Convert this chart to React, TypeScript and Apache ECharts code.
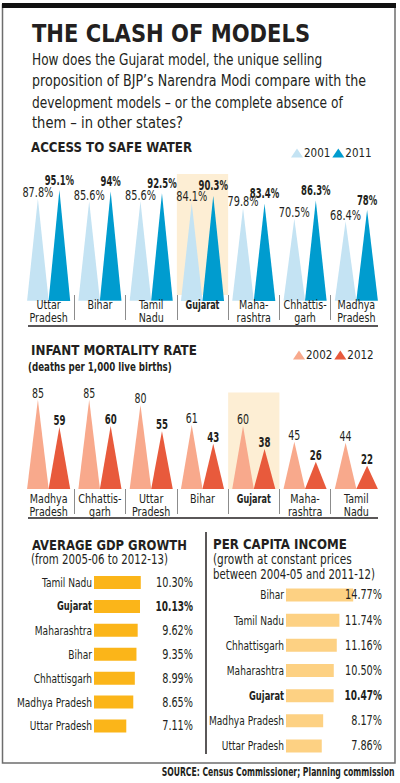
import React, { useEffect, useRef } from 'react';
import * as echarts from 'echarts';

// ---------- data ----------
const waterStates = ['Uttar\nPradesh', 'Bihar', 'Tamil\nNadu', 'Gujarat', 'Maha-\nrashtra', 'Chhattis-\ngarh', 'Madhya\nPradesh'];
const water2001 = [87.8, 85.6, 85.6, 84.1, 79.8, 70.5, 68.4];
const water2011 = [95.1, 94, 92.5, 90.3, 83.4, 86.3, 78];

const imrStates = ['Madhya\nPradesh', 'Chhattis-\ngarh', 'Uttar\nPradesh', 'Bihar', 'Gujarat', 'Maha-\nrashtra', 'Tamil\nNadu'];
const imr2002 = [85, 85, 80, 61, 60, 45, 44];
const imr2012 = [59, 60, 55, 43, 38, 26, 22];

const gdpStates = ['Tamil Nadu', 'Gujarat', 'Maharashtra', 'Bihar', 'Chhattisgarh', 'Madhya Pradesh', 'Uttar Pradesh'];
const gdpGrowth = [10.3, 10.13, 9.62, 9.35, 8.99, 8.65, 7.11];

const pciStates = ['Bihar', 'Tamil Nadu', 'Chhattisgarh', 'Maharashtra', 'Gujarat', 'Madhya Pradesh', 'Uttar Pradesh'];
const pciGrowth = [14.77, 11.74, 11.16, 10.5, 10.47, 8.17, 7.86];

const waterYears = ['2001', '2011'];
const imrYears = ['2002', '2012'];
const HL = 'Gujarat';

const titleText = 'THE CLASH OF MODELS';
const introLines = [
  'How does the Gujarat model, the unique selling',
  'proposition of BJP\u2019s Narendra Modi compare with the',
  'development models \u2013 or the complete absence of',
  'them \u2013 in other states?',
];
const sourceText = 'SOURCE: Census Commissioner; Planning commission';

// ---------- style ----------
const INK = '#231f20';
const C_W1 = '#c4e3f3';
const C_W2 = '#009ccf';
const C_I1 = '#f8a98c';
const C_I2 = '#e85a3c';
const C_GDP = '#fbb519';
const C_PCI = '#fdd183';
const C_HL = '#fdeed4';

const WATER_MIN = 5;
const WATER_MAX = 109;
const IMR_MAX = 92;
const TRI_W = 21.5;

function pickFamily(): string {
  const ctx = document.createElement('canvas').getContext('2d')!;
  const probe = 'THE CLASH abcdefghij 0123456789';
  ctx.font = '20px monospace';
  const base = ctx.measureText(probe).width;
  const cands = ['Liberation Sans Narrow', 'Arial Narrow', 'DejaVu Sans Condensed', 'Roboto Condensed', 'Liberation Sans'];
  for (const c of cands) {
    ctx.font = `20px "${c}", monospace`;
    if (Math.abs(ctx.measureText(probe).width - base) > 0.5) return c;
  }
  return 'Roboto';
}

export default function App() {
  const ref = useRef<HTMLDivElement>(null);
  useEffect(() => {
    document.body.style.margin = '0';
    const fam = pickFamily();
    const FONT = `"${fam}", "Liberation Sans", Arial, sans-serif`;
    const mctx = document.createElement('canvas').getContext('2d')!;
    const scaleFor = (text: string, weight: string, size: number, target: number) => {
      mctx.font = `${weight} ${size}px ${FONT}`;
      const w = mctx.measureText(text).width;
      return w > 0 ? target / w : 1;
    };
    const textEl = (text: string, x: number, y: number, size: number, bold: boolean, scale: number, align: string, vAlign: string, lineHeight?: number) => ({
      type: 'text',
      x,
      y,
      scaleX: scale,
      style: {
        text,
        fontSize: size,
        fontWeight: bold ? 'bold' : 'normal',
        fontFamily: FONT,
        fill: INK,
        align,
        verticalAlign: vAlign,
        lineHeight: lineHeight || Math.round(size * 1.2),
      },
    });
    const txt = (text: string, x: number, y: number, size: number, weight: string, target: number, align = 'left') =>
      textEl(text, x, y, size, weight === 'bold', scaleFor(text, weight, size, target), align, 'middle');

    // condensing factors so the texts take the widths they have in the print graphic
    const sWaterReg = scaleFor('87.8%', 'normal', 13.5, 31);
    const sWaterBold = scaleFor('95.1%', 'bold', 13.5, 29.5);
    const sImrReg = scaleFor('85', 'normal', 14, 12);
    const sImrBold = scaleFor('59', 'bold', 14, 12);
    const sCatReg = scaleFor('Pradesh', 'normal', 13, 38.4);
    const sCatBold = scaleFor('Gujarat', 'bold', 13, 34);
    const sBarCatReg = scaleFor('Madhya Pradesh', 'normal', 12.5, 75);
    const sBarCatBold = scaleFor('Gujarat', 'bold', 12.5, 35);
    const sBarValReg = scaleFor('10.30%', 'normal', 13.5, 37);
    const sBarValBold = scaleFor('10.13%', 'bold', 13.5, 37.5);

    const chart = echarts.init(ref.current!, null, { renderer: 'svg' });

    const stripAxis = (gridIndex: number, data: string[]) => ({
      type: 'category',
      gridIndex,
      data,
      axisLine: { show: false },
      axisTick: { show: false },
      axisLabel: { show: false },
      splitLine: { show: true, interval: 0, showMinLine: false, showMaxLine: false, lineStyle: { color: '#8c8c8c', width: 1 } },
    });
    const plainCat = (gridIndex: number, data: string[]) => ({
      type: 'category',
      gridIndex,
      data,
      axisLine: { show: false },
      axisTick: { show: false },
      axisLabel: { show: false },
    });
    const triSeries = (name: string, data: number[], color: string, xi: number, yi: number) => ({
      type: 'pictorialBar',
      name,
      xAxisIndex: xi,
      yAxisIndex: yi,
      data,
      symbol: 'triangle',
      symbolSize: [TRI_W, '100%'],
      barWidth: TRI_W,
      barGap: '0%',
      itemStyle: { color },
      z: 3,
    });
    // value labels above the apex of each triangle
    const triLabels = (values: number[], slot: number, bold: boolean, xi: number, yi: number, fs: number, suffix: string, scale: number, dy: number) => ({
      type: 'custom',
      xAxisIndex: xi,
      yAxisIndex: yi,
      clip: false,
      silent: true,
      z: 5,
      data: values.map((v, i) => [i, v]),
      renderItem: (params: any, api: any) => {
        const p = api.coord([api.value(0), api.value(1)]);
        const v = values[params.dataIndex];
        return textEl(`${v}${suffix}`, p[0] + (slot * TRI_W) / 2, p[1] + dy, fs, bold, scale, 'center', 'bottom');
      },
    });
    // state names under each pair of triangles
    const catLabels = (cats: string[], xi: number, yi: number, base: number) => ({
      type: 'custom',
      xAxisIndex: xi,
      yAxisIndex: yi,
      clip: false,
      silent: true,
      z: 5,
      data: cats.map((c, i) => [i, base]),
      renderItem: (params: any, api: any) => {
        const p = api.coord([api.value(0), api.value(1)]);
        const c = cats[params.dataIndex];
        const b = c === HL;
        return textEl(c, p[0], p[1] + 3, 13, b, b ? sCatBold : sCatReg, 'center', 'top', 13);
      },
    });
    const hlSeries = (cats: string[], max: number, xi: number, yi: number) => ({
      type: 'bar',
      name: 'highlight',
      xAxisIndex: xi,
      yAxisIndex: yi,
      data: cats.map((c) => (c === HL ? max : '-')),
      barWidth: '100%',
      itemStyle: { color: C_HL },
      silent: true,
      z: 1,
    });
    const barCatLabels = (states: string[], xi: number, yi: number) => ({
      type: 'custom',
      xAxisIndex: xi,
      yAxisIndex: yi,
      clip: false,
      silent: true,
      z: 5,
      data: states.map((s, i) => [0, i]),
      renderItem: (params: any, api: any) => {
        const p = api.coord([0, api.value(1)]);
        const s = states[params.dataIndex];
        const b = s === HL;
        return textEl(s, p[0] - 2, p[1], 12.5, b, b ? sBarCatBold : sBarCatReg, 'right', 'middle');
      },
    });
    const barValLabels = (states: string[], values: number[], xi: number, yi: number) => ({
      type: 'custom',
      xAxisIndex: xi,
      yAxisIndex: yi,
      clip: false,
      silent: true,
      z: 5,
      data: values.map((v, i) => [v, i]),
      renderItem: (params: any, api: any) => {
        const p = api.coord([api.value(0), api.value(1)]);
        const cs = params.coordSys;
        const i = params.dataIndex;
        const b = states[i] === HL;
        return textEl(values[i].toFixed(2) + '%', cs.x + cs.width, p[1], 13.5, b, b ? sBarValBold : sBarValReg, 'right', 'middle');
      },
    });
    const hBarAxis = (gridIndex: number, states: string[]) => ({
      type: 'category',
      gridIndex,
      data: states,
      inverse: true,
      axisLine: { show: false },
      axisTick: { show: false },
      axisLabel: { show: false },
    });

    const legendBase = {
      icon: 'triangle',
      itemWidth: 12,
      itemHeight: 9,
      itemGap: 2,
      selectedMode: false,
      textStyle: { color: INK, fontSize: 11.5, fontFamily: FONT, padding: [0, 0, 0, -4] },
    };

    const option: any = {
      animation: false,
      backgroundColor: '#ffffff',
      textStyle: { fontFamily: FONT },
      legend: [
        { ...legendBase, data: waterYears, left: 286, top: 142 },
        { ...legendBase, data: imrYears, left: 288, top: 344 },
      ],
      grid: [
        { left: 23, right: 18, top: 174, height: 121 },
        { left: 23, right: 18, top: 295, height: 25 },
        { left: 23, right: 18, top: 392.4, height: 96.6 },
        { left: 23, right: 18, top: 489, height: 25 },
        { left: 94, right: 207, top: 570.5, height: 167.5 },
        { left: 286, right: 18, top: 582.4, height: 176.2 },
      ],
      xAxis: [
        plainCat(0, waterStates),
        stripAxis(1, waterStates),
        plainCat(2, imrStates),
        stripAxis(3, imrStates),
        { type: 'value', gridIndex: 4, min: 0, max: 21.8, show: false },
        { type: 'value', gridIndex: 5, min: 0, max: 21.1, show: false },
      ],
      yAxis: [
        { type: 'value', gridIndex: 0, min: WATER_MIN, max: WATER_MAX, show: false },
        { type: 'value', gridIndex: 1, min: 0, max: 1, show: false },
        { type: 'value', gridIndex: 2, min: 0, max: IMR_MAX, show: false },
        { type: 'value', gridIndex: 3, min: 0, max: 1, show: false },
        hBarAxis(4, gdpStates),
        hBarAxis(5, pciStates),
      ],
      series: [
        hlSeries(waterStates, WATER_MAX, 0, 0),
        triSeries(waterYears[0], water2001, C_W1, 0, 0),
        triSeries(waterYears[1], water2011, C_W2, 0, 0),
        triLabels(water2001, -1, false, 0, 0, 13.5, '%', sWaterReg, 2),
        triLabels(water2011, 1, true, 0, 0, 13.5, '%', sWaterBold, -2),
        catLabels(waterStates, 0, 0, WATER_MIN),
        hlSeries(imrStates, IMR_MAX, 2, 2),
        triSeries(imrYears[0], imr2002, C_I1, 2, 2),
        triSeries(imrYears[1], imr2012, C_I2, 2, 2),
        triLabels(imr2002, -1, false, 2, 2, 14, '', sImrReg, 2),
        triLabels(imr2012, 1, true, 2, 2, 14, '', sImrBold, 2),
        catLabels(imrStates, 2, 2, 0),
        { type: 'bar', name: 'gdp', xAxisIndex: 4, yAxisIndex: 4, data: gdpGrowth, barWidth: 13, itemStyle: { color: C_GDP }, z: 2 },
        barCatLabels(gdpStates, 4, 4),
        barValLabels(gdpStates, gdpGrowth, 4, 4),
        { type: 'bar', name: 'pci', xAxisIndex: 5, yAxisIndex: 5, data: pciGrowth, barWidth: 13, itemStyle: { color: C_PCI }, z: 2 },
        barCatLabels(pciStates, 5, 5),
        barValLabels(pciStates, pciGrowth, 5, 5),
      ],
      graphic: [
        { type: 'rect', shape: { x: 2.5, y: 5, width: 392.5, height: 758 }, style: { fill: 'none', stroke: '#6d6d6d', lineWidth: 1.5 }, silent: true },
        { type: 'rect', shape: { x: 2, y: 3, width: 394, height: 5 }, style: { fill: '#111111' }, silent: true },
        { type: 'line', shape: { x1: 28, y1: 326, x2: 378, y2: 326 }, style: { stroke: INK, lineWidth: 1.5 }, silent: true },
        { type: 'line', shape: { x1: 28, y1: 518, x2: 378, y2: 518 }, style: { stroke: INK, lineWidth: 1.5 }, silent: true },
        { type: 'line', shape: { x1: 206, y1: 532, x2: 206, y2: 754 }, style: { stroke: INK, lineWidth: 1.5 }, silent: true },
        txt(titleText, 32, 34, 25, 'bold', 278),
        txt(introLines[0], 32, 59.8, 15.5, 'normal', 290.5),
        txt(introLines[1], 32, 80.7, 15.5, 'normal', 334),
        txt(introLines[2], 32, 101.8, 15.5, 'normal', 311),
        txt(introLines[3], 32, 122.8, 15.5, 'normal', 151),
        txt('ACCESS TO SAFE WATER', 31, 147, 14.5, 'bold', 161),
        txt('INFANT MORTALITY RATE', 31, 349.5, 14.5, 'bold', 166),
        txt('(deaths per 1,000 live births)', 28, 367.5, 12, 'bold', 144),
        txt('AVERAGE GDP GROWTH', 32, 544.5, 14.5, 'bold', 155),
        txt('(from 2005-06 to 2012-13)', 31, 559, 14, 'normal', 137),
        txt('PER CAPITA INCOME', 213, 543.5, 14.5, 'bold', 134),
        txt('(growth at constant prices', 213, 559, 14, 'normal', 139),
        txt('between 2004-05 and 2011-12)', 213, 574, 14, 'normal', 162),
        txt(sourceText, 394.5, 771, 12, 'bold', 233, 'right'),
      ],
    };
    chart.setOption(option);
    return () => chart.dispose();
  }, []);
  return <div ref={ref} style={{ width: 400, height: 783 }} />;
}
